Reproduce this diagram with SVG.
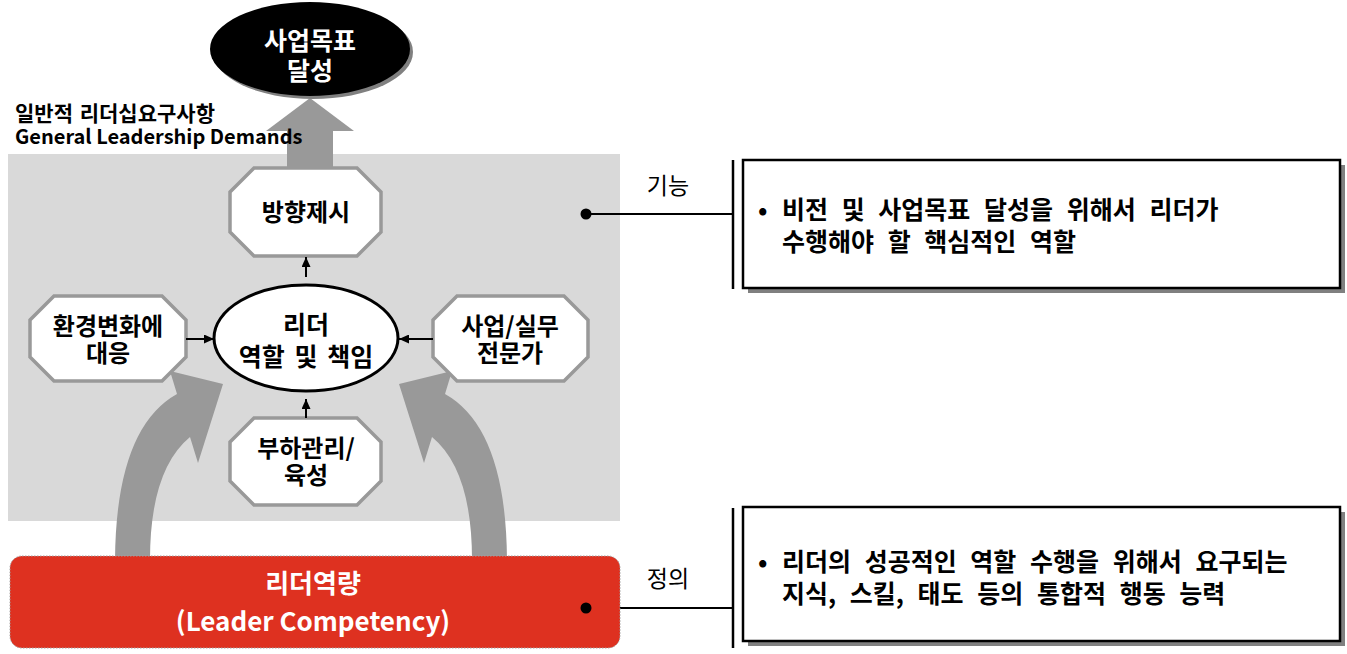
<svg xmlns="http://www.w3.org/2000/svg" width="1347" height="654" viewBox="0 0 1347 654">
<defs>
<style>
.t{font-family:"Noto Sans CJK KR","Noto Sans",sans-serif;font-weight:bold;}
.n{font-family:"Noto Sans CJK KR","Noto Sans",sans-serif;font-weight:normal;}
.oct{fill:#ffffff;stroke:#999999;stroke-width:3.5;}
.big{fill:#999999;}
.con{stroke:#000;stroke-width:2;fill:none;}
.bx{font-size:25px;word-spacing:8px;}
</style>
<marker id="ah" markerUnits="userSpaceOnUse" markerWidth="10" markerHeight="9" refX="10" refY="4.5" orient="auto">
<path d="M0,0 L10,4.5 L0,9 z" fill="#000"/>
</marker>
</defs>
<rect width="1347" height="654" fill="#ffffff"/>
<rect id="panel" x="8" y="154" width="612" height="367" fill="#d9d9d9"/>

<g id="curved-arrows">
<path class="big" d="M115,560 Q116,428 177,394 L170,371 L223,384 L198,463 L190,437 Q150,470 150,560 Z"/>
<path class="big" transform="translate(622,0) scale(-1,1)" d="M115,560 Q116,428 177,394 L170,371 L223,384 L198,463 L190,437 Q150,470 150,560 Z"/>
</g>

<g id="up-arrow">
<path class="big" d="M287,175 L287,131 L266,131 L310,98 L354,131 L333,131 L333,175 Z"/>
</g>

<g id="goal">
<ellipse cx="313" cy="52" rx="100" ry="47" fill="#808080"/>
<ellipse cx="310" cy="49" rx="100" ry="47" fill="#000"/>
<text class="t" font-size="25" fill="#fff" text-anchor="middle"><tspan x="310" y="50">사업목표</tspan><tspan x="310" y="80">달성</tspan></text>
</g>

<g id="general-label">
<text class="t" fill="#000"><tspan x="15" y="121" font-size="21" word-spacing="2">일반적 리더십요구사항</tspan><tspan x="15" y="144" font-size="20">General Leadership Demands</tspan></text>
</g>

<g id="node-direction">
<polygon class="oct" points="254,168 357,168 381,192 381,232 357,256 254,256 230,232 230,192"/>
<text class="t" x="306" y="221" font-size="24" text-anchor="middle">방향제시</text>
</g>
<g id="node-environment">
<polygon class="oct" points="54,296 162,296 186,320 186,357 162,381 54,381 30,357 30,320"/>
<text class="t" font-size="24" text-anchor="middle"><tspan x="108" y="335">환경변화에</tspan><tspan x="108" y="362">대응</tspan></text>
</g>
<g id="node-expert">
<polygon class="oct" points="457,296 564,296 588,320 588,357 564,381 457,381 433,357 433,320"/>
<text class="t" font-size="24" text-anchor="middle"><tspan x="510" y="335">사업/실무</tspan><tspan x="510" y="362">전문가</tspan></text>
</g>
<g id="node-subordinate">
<polygon class="oct" points="254,418 357,418 381,442 381,481 357,505 254,505 230,481 230,442"/>
<text class="t" font-size="24" text-anchor="middle"><tspan x="306" y="457">부하관리/</tspan><tspan x="306" y="484">육성</tspan></text>
</g>
<g id="node-leader-role">
<ellipse cx="306" cy="338" rx="92" ry="53" fill="#fff" stroke="#000" stroke-width="3"/>
<text class="t" font-size="25" text-anchor="middle" word-spacing="4"><tspan x="306" y="334">리더</tspan><tspan x="306" y="366">역할 및 책임</tspan></text>
</g>

<g id="connectors">
<line class="con" x1="306" y1="277" x2="306" y2="257" marker-end="url(#ah)"/>
<line class="con" x1="186" y1="339" x2="214" y2="339" marker-end="url(#ah)"/>
<line class="con" x1="433" y1="339" x2="399" y2="339" marker-end="url(#ah)"/>
<line class="con" x1="306" y1="418" x2="306" y2="399" marker-end="url(#ah)"/>
<line class="con" x1="586" y1="214" x2="733" y2="214"/>
<line class="con" x1="586" y1="608" x2="733" y2="608"/>
<line x1="733" y1="160" x2="733" y2="289" stroke="#000" stroke-width="2.5"/>
<line x1="733" y1="508" x2="733" y2="648" stroke="#000" stroke-width="2.5"/>
</g>

<g id="competency">
<rect x="10" y="556" width="610" height="92" rx="12" fill="#de3120" stroke="#a0a0a0" stroke-width="1" stroke-dasharray="1.5,1.5"/>
<text class="t" font-size="26" fill="#fff" text-anchor="middle"><tspan x="313" y="593">리더역량</tspan><tspan x="313" y="631">(Leader Competency)</tspan></text>
</g>

<g id="dots">
<circle cx="586" cy="214" r="5.5" fill="#000"/>
<circle cx="586" cy="608" r="5.5" fill="#000"/>
</g>

<g id="label-function">
<text class="n" x="668" y="194" font-size="23" text-anchor="middle">기능</text>
</g>
<g id="label-definition">
<text class="n" x="668" y="587" font-size="23" text-anchor="middle">정의</text>
</g>

<g id="box-function">
<rect x="748" y="165" width="597" height="128" fill="#808080"/>
<rect x="743" y="160" width="597" height="128" fill="#fff" stroke="#000" stroke-width="2.5"/>
<text class="t bx"><tspan x="758" y="219">•</tspan><tspan x="782" y="219">비전 및 사업목표 달성을 위해서 리더가</tspan><tspan x="782" y="251">수행해야 할 핵심적인 역할</tspan></text>
</g>
<g id="box-definition">
<rect x="748" y="512" width="597" height="134" fill="#808080"/>
<rect x="743" y="507" width="597" height="134" fill="#fff" stroke="#000" stroke-width="2.5"/>
<text class="t bx"><tspan x="758" y="571">•</tspan><tspan x="782" y="571">리더의 성공적인 역할 수행을 위해서 요구되는</tspan><tspan x="782" y="603">지식, 스킬, 태도 등의 통합적 행동 능력</tspan></text>
</g>
</svg>
